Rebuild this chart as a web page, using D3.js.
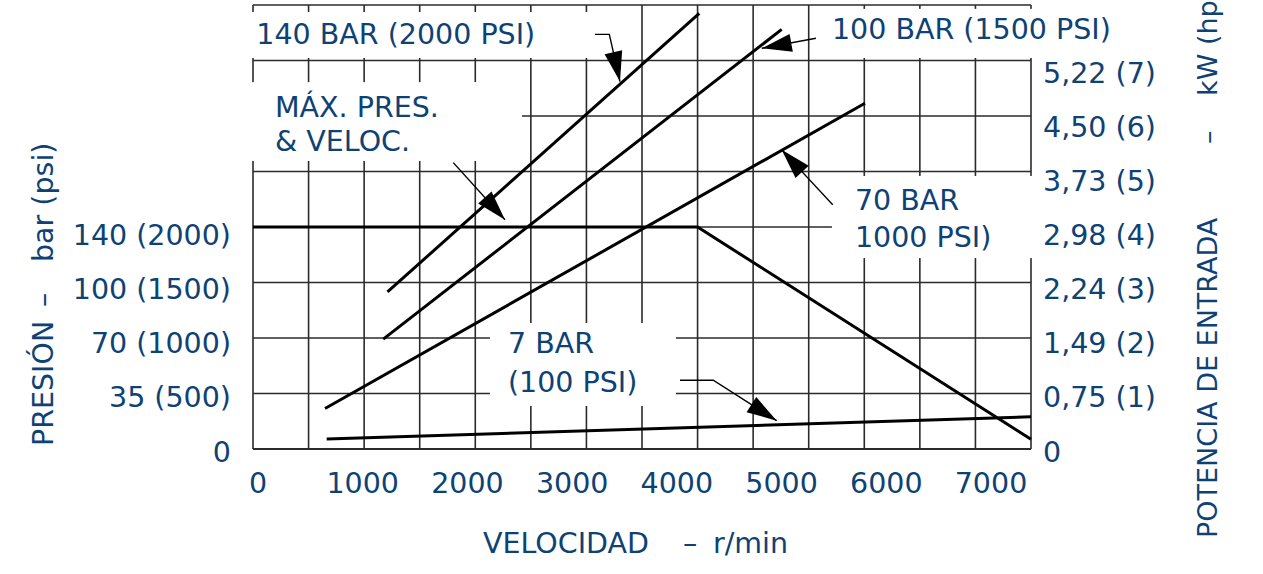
<!DOCTYPE html>
<html><head><meta charset="utf-8">
<script src="https://cdn.jsdelivr.net/npm/d3@7"></script>
<style>html,body{margin:0;padding:0;background:#fff;} svg{display:block;font-family:"DejaVu Sans",sans-serif;}</style>
</head><body>
<svg id="chart" width="1263" height="574"></svg>
<script>
// ---------- data ----------
const speedTicks = [0, 1000, 2000, 3000, 4000, 5000, 6000, 7000];          // r/min labels
const pressureTickPsi = [0, 500, 1000, 1500, 2000];
const pressureTickLabels = ["0", "35 (500)", "70 (1000)", "100 (1500)", "140 (2000)"];
const powerTickHp = [0, 1, 2, 3, 4, 5, 6, 7];
const powerTickLabels = ["0", "0,75 (1)", "1,49 (2)", "2,24 (3)", "2,98 (4)", "3,73 (5)", "4,50 (6)", "5,22 (7)"];

// input power (hp) vs speed (r/min)
const bar140 = [[1210, 2.83], [4015, 7.85]];
const bar100 = [[1172, 1.98], [4757, 7.56]];
const bar70  = [[648, 0.73], [5506, 6.23]];
const bar7   = [[663, 0.18], [7000, 0.58]];
// max pressure (psi) vs speed (r/min)
const maxPressure = [[0, 2000], [4000, 2000], [7000, 87]];

// ---------- layout ----------
const svg = d3.select("#chart");
const blue = "#0e4275";
const x = d3.scaleLinear().domain([0, 7000]).range([253, 1031]);
const yPsi = d3.scaleLinear().domain([0, 4000]).range([449, 5]);
const yHp = d3.scaleLinear().domain([0, 8]).range([449, 5]);
// label placement scales (labels in the source drift slightly from the grid)
const xLabel = d3.scaleLinear().domain([0, 7000]).range([258, 991]);
const yLabel = d3.scaleLinear().domain([0, 7]).range([451, 72]);

// grid
const gridX = d3.range(0, 7001, 500);
const gridY = d3.range(0, 4001, 500);
const grid = svg.append("g").attr("stroke", "#2b2b2b").attr("stroke-width", 1.6);
grid.selectAll("line.v").data(gridX).join("line")
  .attr("x1", d => x(d)).attr("x2", d => x(d)).attr("y1", yPsi(0)).attr("y2", yPsi(4000));
grid.selectAll("line.h").data(gridY).join("line")
  .attr("y1", d => yPsi(d)).attr("y2", d => yPsi(d)).attr("x1", x(0)).attr("x2", x(7000));
svg.append("line").attr("x1", x(0)).attr("x2", x(7000)).attr("y1", yPsi(0)).attr("y2", yPsi(0))
  .attr("stroke", "#2b2b2b").attr("stroke-width", 2.2);

// text masks (rpm, hp corners)
const masks = [
  [-20, 7.045, 3050, 7.874],
  [-20, 5.19, 2420, 6.61],
  [5038, 7.045, 7800, 7.93],
  [5209, 3.44, 7081, 4.92],
  [2132, 0.775, 3806, 2.27]
];
svg.append("g").selectAll("rect").data(masks).join("rect")
  .attr("x", d => x(d[0])).attr("y", d => yHp(d[3]))
  .attr("width", d => x(d[2]) - x(d[0])).attr("height", d => yHp(d[1]) - yHp(d[3]))
  .attr("fill", "#fff");

// data lines
const lineHp = d3.line().x(d => x(d[0])).y(d => yHp(d[1]));
const linePsi = d3.line().x(d => x(d[0])).y(d => yPsi(d[1]));
const dl = svg.append("g").attr("fill", "none").attr("stroke", "#000").attr("stroke-width", 3).attr("stroke-linecap", "butt");
[bar140, bar100, bar70, bar7].forEach(s => dl.append("path").attr("d", lineHp(s)));
dl.append("path").attr("d", linePsi(maxPressure)).attr("stroke-linejoin", "miter");

// arrows (rpm, hp)
const arrows = [
  [[3077, 7.47], [3206, 7.47], [3302, 6.62]],
  [[5065, 7.40], [4577, 7.22]],
  [[1802, 5.16], [2267, 4.13]],
  [[5216, 4.40], [4757, 5.39]],
  [[3842, 1.24], [4141, 1.24], [4712, 0.51]]
];
function head(p0, p1, len, hw) {
  const dx = p1[0] - p0[0], dy = p1[1] - p0[1], L = Math.hypot(dx, dy);
  const ux = dx / L, uy = dy / L;
  const bx = p1[0] - ux * len, by = p1[1] - uy * len;
  return [p1, [bx - uy * hw, by + ux * hw], [bx + uy * hw, by - ux * hw]];
}
const ag = svg.append("g");
arrows.forEach(a => {
  const pts = a.map(d => [x(d[0]), yHp(d[1])]);
  ag.append("path").attr("d", d3.line()(pts)).attr("fill", "none").attr("stroke", "#000").attr("stroke-width", 1.4);
  const h = head(pts[pts.length - 2], pts[pts.length - 1], 30, 9);
  ag.append("path").attr("d", "M" + h.map(p => p.join(",")).join("L") + "Z").attr("fill", "#000");
});

// annotation texts (rpm, hp baseline)
const notes = [
  ["140 BAR (2000 PSI)", 30, 7.297],
  ["100 BAR (1500 PSI)", 5209, 7.396],
  ["MÁX. PRES.", 198, 5.982],
  ["& VELOC.", 198, 5.369],
  ["70 BAR", 5416, 4.306],
  ["1000 PSI)", 5416, 3.631],
  ["7 BAR", 2294, 1.730],
  ["(100 PSI)", 2294, 1.036]
];
svg.append("g").attr("fill", blue).attr("font-size", 28.5)
  .selectAll("text").data(notes).join("text")
  .attr("x", d => x(d[1])).attr("y", d => yHp(d[2])).text(d => d[0]);

// axis labels
const fs = 28.5;
svg.append("g").attr("fill", blue).attr("font-size", fs).attr("text-anchor", "middle")
  .selectAll("text").data(speedTicks).join("text")
  .attr("x", d => xLabel(d)).attr("y", 493).text(d => d);
svg.append("g").attr("fill", blue).attr("font-size", fs).attr("text-anchor", "end")
  .selectAll("text").data(pressureTickPsi).join("text")
  .attr("x", 231).attr("y", d => yLabel(d / 500) + 10.5).text((d, i) => pressureTickLabels[i]);
svg.append("g").attr("fill", blue).attr("font-size", fs).attr("text-anchor", "start")
  .selectAll("text").data(powerTickHp).join("text")
  .attr("x", 1043).attr("y", d => yLabel(d) + 10.5).text((d, i) => powerTickLabels[i]);

// axis titles
const xt = svg.append("text").attr("fill", blue).attr("font-size", fs).attr("y", 553);
xt.append("tspan").attr("x", 483).text("VELOCIDAD");
xt.append("tspan").attr("x", 683).text("–");
xt.append("tspan").attr("x", 713).text("r/min");

const lt = svg.append("g").attr("transform", "translate(53,0) rotate(-90)").attr("fill", blue).attr("font-size", fs);
lt.append("text").attr("x", -446).text("PRESIÓN");
lt.append("text").attr("x", -307).text("–");
lt.append("text").attr("x", -262).text("bar (psi)");

const rt = svg.append("g").attr("transform", "translate(1217,0) rotate(-90)").attr("fill", blue).attr("font-size", 27);
rt.append("text").attr("x", -538).text("POTENCIA DE ENTRADA");
rt.append("text").attr("x", -144).text("–");
rt.append("text").attr("x", -96).text("kW (hp)");
</script>
</body></html>
